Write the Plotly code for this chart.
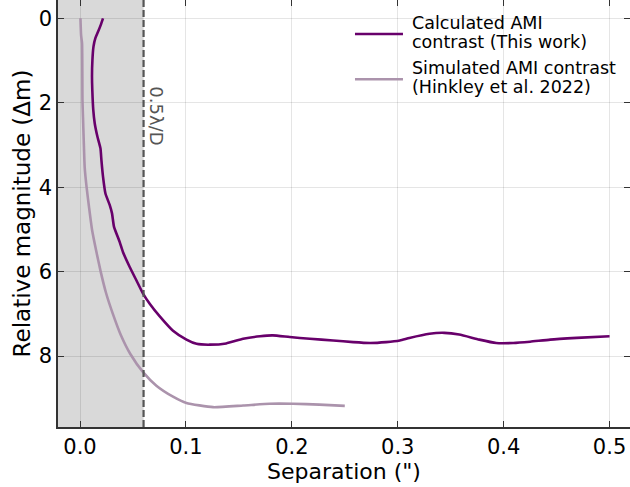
import plotly.graph_objects as go

# Calculated AMI contrast (This work)
calc_sep = [0.0217, 0.0195, 0.0170, 0.0145, 0.0127, 0.0117, 0.0113, 0.0116, 0.0125, 0.0139,
            0.0164, 0.0193, 0.0202, 0.0217, 0.0240, 0.0280, 0.0302, 0.0321, 0.0375, 0.0406,
            0.0469, 0.0533, 0.0595, 0.0658, 0.0753, 0.0878, 0.1005, 0.1100, 0.1225, 0.1380,
            0.1540, 0.1700, 0.1820, 0.1980, 0.2170, 0.2390, 0.2580, 0.2740, 0.2890, 0.3020,
            0.3110, 0.3300, 0.3440, 0.3580, 0.3770, 0.3930, 0.4090, 0.4250, 0.4440, 0.4690,
            0.5000]
calc_mag = [0.00, 0.16, 0.32, 0.47, 0.67, 0.99, 1.38, 1.70, 2.17, 2.49,
            2.80, 3.08, 3.36, 3.75, 4.15, 4.42, 4.62, 4.94, 5.30, 5.54,
            5.89, 6.21, 6.52, 6.76, 7.06, 7.40, 7.61, 7.71, 7.73, 7.70,
            7.59, 7.53, 7.51, 7.55, 7.59, 7.63, 7.67, 7.69, 7.67, 7.63,
            7.57, 7.47, 7.45, 7.49, 7.61, 7.69, 7.69, 7.66, 7.61, 7.57,
            7.53]

# Simulated AMI contrast (Hinkley et al. 2022)
sim_sep = [0.0004, 0.0010, 0.0019, 0.0023, 0.0028, 0.0035, 0.0044, 0.0062, 0.0085, 0.0113,
           0.0152, 0.0195, 0.0245, 0.0310, 0.0385, 0.0475, 0.0595, 0.0721, 0.0878, 0.1005,
           0.1256, 0.1540, 0.1790, 0.2010, 0.2260, 0.2500]
sim_mag = [0.00, 0.40, 0.59, 1.94, 2.34, 2.90, 3.53, 4.00, 4.47, 5.00,
           5.50, 6.00, 6.50, 7.00, 7.50, 7.95, 8.38, 8.70, 8.96, 9.11,
           9.21, 9.17, 9.13, 9.13, 9.15, 9.18]

series_names = [["Calculated AMI", "contrast (This work)"],
                ["Simulated AMI contrast", "(Hinkley et al. 2022)"]]
series_colors = ["#68006b", "#ab93ac"]

limit_sep = 0.06
x_ticks = [0.0, 0.1, 0.2, 0.3, 0.4, 0.5]
x_ticklabels = ["0.0", "0.1", "0.2", "0.3", "0.4", "0.5"]
y_ticks = [0, 2, 4, 6, 8]
x_range = [-0.0208, 0.5193]
y_range = [9.68, -0.434]

FONT = "DejaVu Sans"
fig = go.Figure()

for sx, sy, nm, col in [(calc_sep, calc_mag, series_names[0], series_colors[0]),
                        (sim_sep, sim_mag, series_names[1], series_colors[1])]:
    fig.add_trace(go.Scatter(x=sx, y=sy, mode="lines",
                             line=dict(color=col, width=2.6, shape="spline", smoothing=0.5),
                             name=" ".join(nm), showlegend=False))

# shaded region
fig.add_shape(type="rect", xref="x", yref="paper", x0=x_range[0], x1=limit_sep, y0=0, y1=1,
              fillcolor="#d9d9d9", line=dict(width=0), layer="below")
fig.add_shape(type="line", xref="x", yref="paper", x0=limit_sep, x1=limit_sep, y0=0, y1=1,
              line=dict(color="#555555", width=2.2, dash="7px,3px"), layer="above")
fig.add_annotation(x=limit_sep, y=2.3, xref="x", yref="y", text="0.5λ/D", showarrow=False,
                   textangle=90, xanchor="left", xshift=0,
                   font=dict(family=FONT, size=18, color="#555555"))

# legend (matplotlib-style, tight line spacing)
leg_line_x = [0.5192, 0.6031]
leg_text_x = 0.6154
leg_line_y = [0.9204, 0.8143]
leg_text_y = [[0.9454, 0.9009], [0.8400, 0.7955]]
for i in range(2):
    fig.add_shape(type="line", xref="paper", yref="paper",
                  x0=leg_line_x[0], x1=leg_line_x[1], y0=leg_line_y[i], y1=leg_line_y[i],
                  line=dict(color=series_colors[i], width=2.6), layer="above")
    for j in range(2):
        fig.add_annotation(x=leg_text_x, y=leg_text_y[i][j], xref="paper", yref="paper",
                           text=series_names[i][j], showarrow=False,
                           xanchor="left", yanchor="middle",
                           font=dict(family=FONT, size=17.5, color="black"))

fig.update_layout(
    width=630, height=487,
    margin=dict(l=58, r=0, t=0, b=60),
    paper_bgcolor="white", plot_bgcolor="rgba(0,0,0,0)",
    font=dict(family=FONT, color="black"),
    showlegend=False,
    xaxis=dict(range=x_range, tickvals=x_ticks, ticktext=x_ticklabels,
               ticks="inside", ticklen=6, tickwidth=1.2, tickcolor="#333333",
               showline=True, linecolor="#333333", linewidth=1.5,
               showgrid=True, gridcolor="rgba(0,0,0,0.1)", gridwidth=1.2,
               zeroline=False, tickfont=dict(size=21),
               title=dict(text="Separation (\")", font=dict(size=22), standoff=6)),
    yaxis=dict(range=y_range, tickvals=y_ticks,
               ticks="inside", ticklen=6, tickwidth=1.2, tickcolor="#333333",
               showline=True, linecolor="#333333", linewidth=1.5,
               showgrid=True, gridcolor="rgba(0,0,0,0.1)", gridwidth=1.2,
               zeroline=False, tickfont=dict(size=21),
               title=dict(text="Relative magnitude (Δm)", font=dict(size=23), standoff=2)),
    xaxis2=dict(overlaying="x", matches="x", side="top", tickvals=x_ticks,
                ticks="inside", ticklen=6, tickwidth=1.2, tickcolor="#333333",
                showticklabels=False, showgrid=False, showline=False, zeroline=False),
    yaxis2=dict(overlaying="y", matches="y", side="right", tickvals=y_ticks,
                ticks="inside", ticklen=6, tickwidth=1.2, tickcolor="#333333",
                showticklabels=False, showgrid=False, showline=False, zeroline=False),
)
# invisible trace to activate mirrored tick axes
fig.add_trace(go.Scatter(x=[0.0], y=[0.0], xaxis="x2", yaxis="y2", mode="markers",
                         marker=dict(opacity=0), showlegend=False, hoverinfo="skip"))

fig.write_html("out.html", config={"displayModeBar": False},
               post_script="document.body.style.margin='0';document.body.style.overflow='hidden';")
